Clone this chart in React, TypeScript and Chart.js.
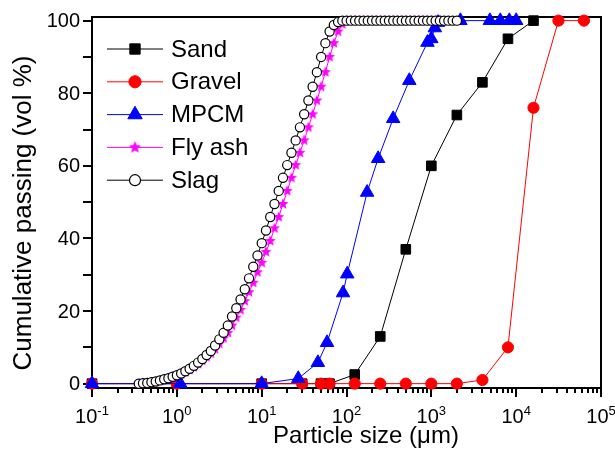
import React, { useEffect, useRef } from 'react';
import { Chart, registerables } from 'chart.js';
import { drawPoint } from 'chart.js/helpers';

Chart.register(...registerables);

// ---- data ----
const sandSize = [0.1, 1, 10, 30, 50, 63, 125, 250, 500, 1000, 2000, 4000, 8000, 16000];
const sandPassing = [0, 0, 0, 0, 0, 0, 2.5, 13, 37, 60, 74, 83, 95, 100];

const gravelSize = [0.1, 1, 10, 30, 50, 63, 125, 250, 500, 1000, 2000, 4000, 8000, 16000, 31500, 63000];
const gravelPassing = [0, 0, 0, 0, 0, 0, 0, 0, 0, 0, 0, 1, 10, 76, 100, 100];

const mpcmSize = [0.1, 1.1, 10, 27, 46, 59, 91, 102, 175, 236, 355, 550, 900, 1000, 1100, 1200, 2200, 4900, 6500, 8300, 10000];
const mpcmPassing = [0, 0, 0, 1.4, 5.8, 11.3, 25, 30.2, 52.7, 62, 73, 83.5, 94, 95, 98, 99.5, 100, 100, 100, 100, 100];

const flyAshData: [number, number][] = [
  [0.356, 0], [0.399, 0.1], [0.448, 0.2], [0.502, 0.3], [0.564, 0.5], [0.632, 0.8], [0.71, 1.1], [0.796, 1.4],
  [0.893, 1.7], [1.002, 2.1], [1.125, 2.6], [1.262, 3.2], [1.416, 3.8], [1.589, 4.5], [1.783, 5.4], [2.0, 6.3],
  [2.244, 7.3], [2.518, 8.3], [2.825, 9.5], [3.17, 11.0], [3.557, 12.5], [3.991, 14.0], [4.477, 16.0], [5.024, 18.2],
  [5.637, 20.3], [6.325, 22.7], [7.096, 25.2], [7.962, 27.8], [8.934, 30.7], [10.024, 33.3], [11.247, 36.3],
  [12.619, 39.3], [14.159, 42.8], [15.887, 45.9], [17.825, 49.5], [20.0, 53.1], [22.44, 56.7], [25.179, 60.2],
  [28.251, 63.6], [31.698, 67.0], [35.566, 70.6], [39.905, 74.2], [44.774, 78.0], [50.238, 81.8], [56.368, 85.8],
  [63.246, 90.0], [70.963, 93.8], [79.621, 97.0], [89.337, 99.0], [100.237, 100], [112.468, 100], [126.191, 100],
  [141.589, 100], [158.866, 100], [178.25, 100], [200.0, 100], [224.404, 100], [251.785, 100], [282.508, 100],
  [316.979, 100], [355.656, 100], [399.052, 100], [447.744, 100], [502.377, 100], [563.677, 100], [632.456, 100],
  [709.627, 100], [796.214, 100], [893.367, 100], [1002.374, 100], [1124.683, 100], [1261.915, 100],
];

const slagData: [number, number][] = [
  [0.356, 0], [0.399, 0.1], [0.448, 0.2], [0.502, 0.4], [0.564, 0.6], [0.632, 0.9], [0.71, 1.2], [0.796, 1.5],
  [0.893, 1.9], [1.002, 2.3], [1.125, 2.8], [1.262, 3.4], [1.416, 4.1], [1.589, 4.9], [1.783, 5.8], [2.0, 6.8],
  [2.244, 7.9], [2.518, 9.0], [2.825, 10.5], [3.17, 12.2], [3.557, 14.0], [3.991, 16.0], [4.477, 18.5], [5.024, 20.8],
  [5.637, 23.2], [6.325, 26.0], [7.096, 29.0], [7.962, 32.2], [8.934, 35.3], [10.024, 38.7], [11.247, 42.2],
  [12.619, 45.9], [14.159, 49.5], [15.887, 53.1], [17.825, 56.7], [20.0, 60.2], [22.44, 63.6], [25.179, 67.0],
  [28.251, 70.6], [31.698, 74.2], [35.566, 78.0], [39.905, 81.8], [44.774, 85.8], [50.238, 90.0], [56.368, 93.8],
  [63.246, 97.0], [70.963, 98.8], [79.621, 99.6], [89.337, 100], [100.237, 100], [112.468, 100], [126.191, 100],
  [141.589, 100], [158.866, 100], [178.25, 100], [200.0, 100], [224.404, 100], [251.785, 100], [282.508, 100],
  [316.979, 100], [355.656, 100], [399.052, 100], [447.744, 100], [502.377, 100], [563.677, 100], [632.456, 100],
  [709.627, 100], [796.214, 100], [893.367, 100], [1002.374, 100], [1124.683, 100], [1261.915, 100],
  [1415.892, 100], [1588.656, 100], [1782.502, 100], [2000.0, 100],
];

const seriesNames = ['Sand', 'Gravel', 'MPCM', 'Fly ash', 'Slag'];

// ---- axis ticks ----
const xMajorTicks = [0.1, 1, 10, 100, 1000, 10000, 100000];
const xTickExponents = ['-1', '0', '1', '2', '3', '4', '5'];
const xMinorMultipliers = [2, 3, 4, 5, 6, 7, 8, 9];
const yTicks = [0, 10, 20, 30, 40, 50, 60, 70, 80, 90, 100];
const yTickLabels = [0, 20, 40, 60, 80, 100];

const FONT = '"Liberation Sans", Arial, Helvetica, sans-serif';

function makeStar(r: number, color: string): HTMLCanvasElement {
  const size = Math.ceil(r * 2) + 2;
  const c = document.createElement('canvas');
  c.width = size;
  c.height = size;
  const ctx = c.getContext('2d')!;
  ctx.fillStyle = color;
  ctx.beginPath();
  for (let i = 0; i < 10; i++) {
    const rad = i % 2 === 0 ? r : r * 0.45;
    const a = -Math.PI / 2 + (i * Math.PI) / 5;
    const px = size / 2 + rad * Math.cos(a);
    const py = size / 2 + rad * Math.sin(a);
    if (i === 0) ctx.moveTo(px, py);
    else ctx.lineTo(px, py);
  }
  ctx.closePath();
  ctx.fill();
  return c;
}

const pairs = (xs: number[], ys: number[]) => xs.map((x, i) => ({ x, y: ys[i] }));
const fromTuples = (d: [number, number][]) => d.map(([x, y]) => ({ x, y }));

export default function App() {
  const ref = useRef<HTMLCanvasElement | null>(null);

  useEffect(() => {
    if (!ref.current) return;
    const star = makeStar(5.8, '#ff00ff');
    const legendStar = makeStar(6.5, '#ff00ff');

    const styles = [
      { color: '#000000', pointStyle: 'rect', radius: 6.8, bg: '#000000', bw: 1 },
      { color: '#ff0000', pointStyle: 'circle', radius: 5.6, bg: '#ff0000', bw: 1 },
      { color: '#0000ff', pointStyle: 'triangle', radius: 7.8, bg: '#0000ff', bw: 1 },
      { color: '#ff00ff', pointStyle: star as any, radius: 6, bg: '#ff00ff', bw: 0 },
      { color: '#000000', pointStyle: 'circle', radius: 4.6, bg: '#ffffff', bw: 1.2 },
    ];
    const datas = [
      pairs(sandSize, sandPassing),
      pairs(gravelSize, gravelPassing),
      pairs(mpcmSize, mpcmPassing),
      fromTuples(flyAshData),
      fromTuples(slagData),
    ];
    const orders = [4, 3, 2, 1, 0];

    const decor = {
      id: 'decor',
      beforeDatasetsDraw(chart: any) {
        const { ctx, chartArea: a, scales } = chart;
        const x = scales.x;
        const y = scales.y;
        ctx.save();
        ctx.strokeStyle = '#000';
        ctx.lineWidth = 2;
        ctx.strokeRect(a.left, a.top, a.right - a.left, a.bottom - a.top);
        // x ticks
        ctx.beginPath();
        xMajorTicks.forEach((v) => {
          const px = Math.round(x.getPixelForValue(v));
          ctx.moveTo(px, a.bottom);
          ctx.lineTo(px, a.bottom + 9);
        });
        xMajorTicks.slice(0, -1).forEach((d) => {
          xMinorMultipliers.forEach((m) => {
            const px = Math.round(x.getPixelForValue(d * m));
            ctx.moveTo(px, a.bottom);
            ctx.lineTo(px, a.bottom + 5);
          });
        });
        // y ticks
        yTicks.forEach((v) => {
          const py = Math.round(y.getPixelForValue(v));
          ctx.moveTo(a.left - 9, py);
          ctx.lineTo(a.left, py);
        });
        ctx.stroke();

        // x tick labels
        ctx.fillStyle = '#000';
        ctx.textBaseline = 'alphabetic';
        ctx.textAlign = 'left';
        xMajorTicks.forEach((v, i) => {
          const px = x.getPixelForValue(v);
          ctx.font = `20px ${FONT}`;
          const w1 = ctx.measureText('10').width;
          ctx.font = `13px ${FONT}`;
          const w2 = ctx.measureText(xTickExponents[i]).width;
          const start = px - (w1 + w2) / 2;
          ctx.font = `20px ${FONT}`;
          ctx.fillText('10', start, 423);
          ctx.font = `13px ${FONT}`;
          ctx.fillText(xTickExponents[i], start + w1, 415);
        });
        // y tick labels
        ctx.font = `20px ${FONT}`;
        ctx.textAlign = 'right';
        ctx.textBaseline = 'middle';
        yTickLabels.forEach((v) => {
          ctx.fillText(String(v), a.left - 12, y.getPixelForValue(v) + 1);
        });
        // axis titles
        ctx.font = `24px ${FONT}`;
        ctx.textAlign = 'center';
        ctx.textBaseline = 'middle';
        ctx.fillText('Particle size (\u03bcm)', 366, 436);
        ctx.save();
        ctx.translate(24, 213);
        ctx.rotate(-Math.PI / 2);
        ctx.font = `26px ${FONT}`;
        ctx.fillText('Cumulative passing (vol %)', 0, 0);
        ctx.restore();
        ctx.restore();
      },
      afterDatasetsDraw(chart: any) {
        const { ctx } = chart;
        ctx.save();
        seriesNames.forEach((name, i) => {
          const s = styles[i];
          const cy = 49 + i * 32.8;
          ctx.strokeStyle = s.color;
          ctx.lineWidth = 1;
          ctx.beginPath();
          ctx.moveTo(107, cy);
          ctx.lineTo(163, cy);
          ctx.stroke();
          ctx.fillStyle = s.bg;
          ctx.strokeStyle = s.color;
          ctx.lineWidth = s.bw;
          drawPoint(ctx, {
            pointStyle: i === 3 ? (legendStar as any) : s.pointStyle,
            rotation: 0,
            radius: i === 4 ? 5.5 : s.radius + 0.5,
            borderWidth: s.bw,
          } as any, 135, cy);
          ctx.fillStyle = '#000';
          ctx.font = `24px ${FONT}`;
          ctx.textAlign = 'left';
          ctx.textBaseline = 'middle';
          ctx.fillText(name, 171, cy + 1);
        });
        ctx.restore();
      },
    };

    const chart = new Chart(ref.current, {
      type: 'line',
      data: {
        datasets: seriesNames.map((name, i) => ({
          label: name,
          data: datas[i],
          borderColor: styles[i].color,
          backgroundColor: styles[i].bg,
          borderWidth: 1,
          pointStyle: styles[i].pointStyle as any,
          pointRadius: styles[i].radius,
          pointBackgroundColor: styles[i].bg,
          pointBorderColor: styles[i].color,
          pointBorderWidth: styles[i].bw,
          tension: 0,
          fill: false,
          clip: false as any,
          order: orders[i],
        })),
      },
      options: {
        responsive: false,
        animation: false,
        events: [],
        layout: { padding: { left: 0, right: 14, top: 17, bottom: 0 } },
        plugins: { legend: { display: false }, tooltip: { enabled: false } },
        scales: {
          x: {
            type: 'logarithmic',
            min: 0.1,
            max: 100000,
            ticks: { display: false },
            grid: { display: false },
            border: { display: false },
            afterFit: (s: any) => { s.height = 63; },
          },
          y: {
            type: 'linear',
            min: -1.2,
            max: 101,
            ticks: { display: false },
            grid: { display: false },
            border: { display: false },
            afterFit: (s: any) => { s.width = 92; },
          },
        },
      } as any,
      plugins: [decor],
    });
    return () => chart.destroy();
  }, []);

  return (
    <div style={{ position: 'absolute', left: 0, top: 0, width: 615, height: 451, background: '#fff' }}>
      <canvas ref={ref} width={615} height={451} style={{ display: 'block' }} />
    </div>
  );
}
